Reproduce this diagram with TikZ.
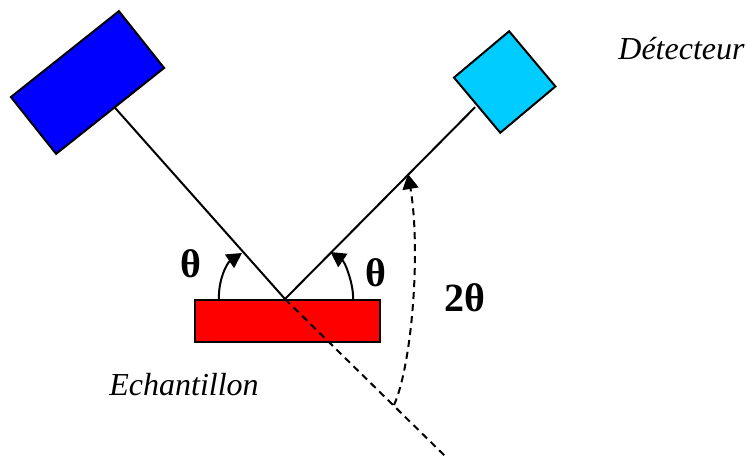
\documentclass[tikz,border=0pt]{standalone}
\usepackage{fontspec}
\setmainfont{Liberation Serif}
\usetikzlibrary{arrows.meta}

\begin{document}
\begin{tikzpicture}[x=1pt,y=-1pt,
    box/.style={draw,line width=2pt,inner sep=0pt,outer sep=0pt},
    beam/.style={line width=2pt},
    anglearrow/.style={line width=2pt,-{Triangle[length=15pt,width=16pt]}},
    labeltext/.style={inner sep=0pt,font=\fontsize{32}{32}\selectfont\itshape},
    symtext/.style={inner sep=0pt,font=\fontsize{40}{40}\selectfont\bfseries}]
    \definecolor{detectorblue}{HTML}{00CCFF}
    \useasboundingbox (0,0) rectangle (746,456);
    \node[box,fill=blue,rotate=38.5,minimum width=138pt,minimum height=72.6pt] (source) at (87.5,82.5) {};
    \node[box,fill=detectorblue,rotate=40,minimum width=72pt,minimum height=72pt] (detector) at (504.7,82) {};
    \node[box,fill=red,minimum width=185pt,minimum height=42pt] (sample) at (287,320.7) {};
    \coordinate (impact) at (285,299);
    \coordinate (far) at (445,456);
    \coordinate (bend) at (394,405);
    \coordinate (hit) at (408,174);
    \coordinate (lefthit) at (242,253);
    \coordinate (righthit) at (330.5,252);
    \draw[beam] ([xshift=5pt,yshift=3pt]source.south) -- (impact);
    \draw[beam] ([xshift=-2pt,yshift=-2pt]detector.west) -- (impact);
    \draw[beam,dash pattern=on 7pt off 5pt] (impact) -- (far);
    \draw[anglearrow,dash pattern=on 7pt off 5pt] (bend) .. controls (412,365) and (421,250) .. (hit);
    \draw[anglearrow] ([xshift=-68pt]sample.north) .. controls (218,280) and (227,263) .. (lefthit);
    \draw[anglearrow] ([xshift=66pt]sample.north) .. controls (354,285) and (345,262) .. (righthit);
    \node[symtext] (leftangle) at (191,264) {θ};
    \node[symtext] (rightangle) at (376,273) {θ};
    \node[symtext] (double) at (465,298) {2θ};
    \node[labeltext] (detectorlabel) at (681.5,49) {Détecteur};
    \node[labeltext] (samplelabel) at (184,385) {Echantillon};
\end{tikzpicture}
\end{document}
